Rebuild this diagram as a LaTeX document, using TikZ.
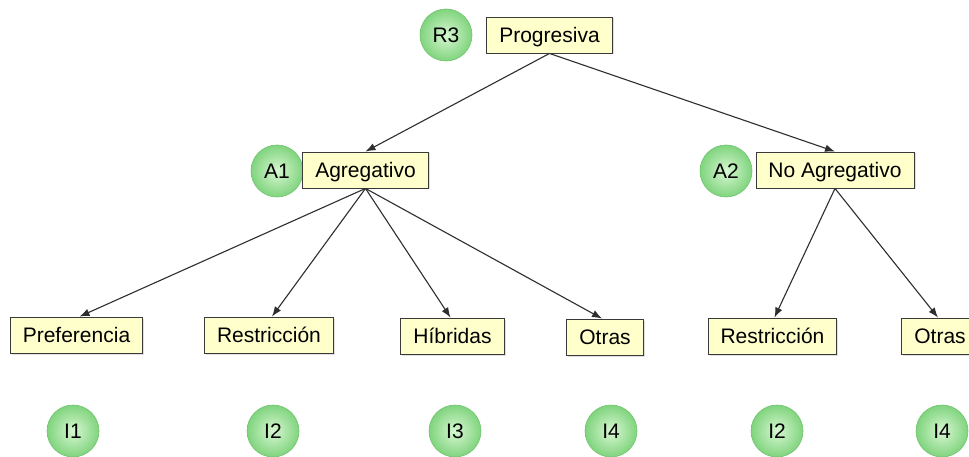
\documentclass[tikz,border=0pt]{standalone}
\usepackage{fontspec}
\setmainfont{Liberation Sans}
\usetikzlibrary{arrows.meta,shadows}
\definecolor{boxfill}{HTML}{FFFFCC}
\definecolor{boxline}{HTML}{3A3A3A}
\definecolor{ballin}{HTML}{D8F7D2}
\definecolor{ballout}{HTML}{80D47E}
\definecolor{ballrim}{HTML}{70C46E}
\definecolor{edgecol}{HTML}{2E2E2E}
\tikzset{
  catbox/.style={draw=boxline, line width=0.9pt, fill=boxfill, rectangle,
    inner xsep=12.5pt, inner ysep=0pt, minimum height=36pt,
    text height=16pt, text depth=1.5pt,
    drop shadow={opacity=0.25, shadow xshift=1.5pt, shadow yshift=-1.5pt}},
  tagball/.style={circle, minimum size=52pt, inner sep=0pt, draw=ballrim,
    line width=0.6pt, inner color=ballin, outer color=ballout,
    text height=16pt, text depth=1.5pt},
  link/.style={draw=edgecol, line width=1.1pt, -{Latex[length=10pt,width=7.5pt]}}
}
\begin{document}
\begin{tikzpicture}[x=1pt, y=-1pt, font=\fontsize{21}{24}\selectfont]
\clip (0,0) rectangle (969,457);
\fill[white] (0,0) rectangle (969,457);

% root level
\node[tagball] (r3) at (446,35) {R3};
\node[catbox] (prog) at (549.5,35) {Progresiva};

% second level
\node[tagball] (a1) at (277,171) {A1};
\node[catbox] (agr) at (365.5,170) {Agregativo};
\node[tagball] (a2) at (726,171) {A2};
\node[catbox] (noagr) at (835,170) {No Agregativo};

% leaves
\node[catbox] (pref) at (76.5,335) {Preferencia};
\node[catbox] (restr) at (269,335) {Restricción};
\node[catbox] (hibr) at (452.5,336) {Híbridas};
\node[catbox] (otras) at (605,337) {Otras};
\node[catbox] (restrb) at (772.5,336) {Restricción};
\node[catbox] (otrasb) at (940,336) {Otras};

% leaf tags
\node[tagball] (i1) at (73,431) {I1};
\node[tagball] (i2) at (273,431) {I2};
\node[tagball] (i3) at (455,431) {I3};
\node[tagball] (i4) at (611,431) {I4};
\node[tagball] (i2b) at (777,431) {I2};
\node[tagball] (i4b) at (942,431) {I4};

% connectors
\draw[link] (prog.south) -- (agr.north);
\draw[link] (prog.south) -- (noagr.north);
\draw[link] (agr.south) -- ([xshift=3pt]pref.north);
\draw[link] (agr.south) -- ([xshift=3pt]restr.north);
\draw[link] (agr.south) -- ([xshift=-2pt]hibr.north);
\draw[link] (agr.south) -- ([xshift=-3pt]otras.north);
\draw[link] (noagr.south) -- ([xshift=2pt]restrb.north);
\draw[link] (noagr.south) -- ([xshift=-2pt]otrasb.north);
\end{tikzpicture}
\end{document}
